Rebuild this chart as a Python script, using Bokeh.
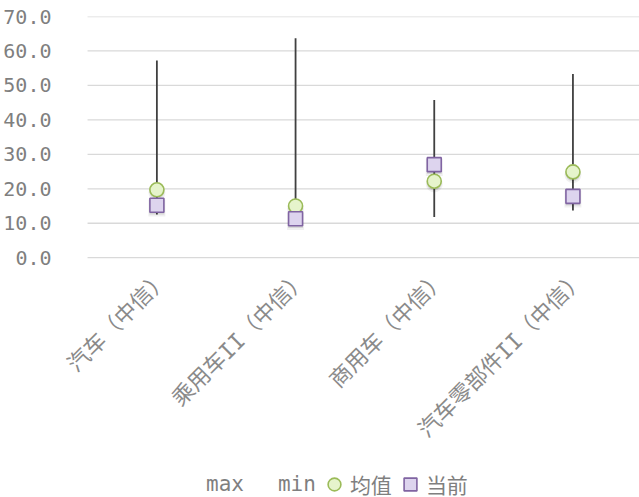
import math

from bokeh.core.properties import value
from bokeh.embed import file_html
from bokeh.models import (FixedTicker, Legend, LegendItem,
                          PrintfTickFormatter, Range1d)
from bokeh.plotting import figure
from bokeh.resources import INLINE
from bokeh.transform import dodge

# Valuation band per industry: historical max / min, mean and current level
categories = ["汽车（中信）", "乘用车II（中信）", "商用车（中信）", "汽车零部件II（中信）"]
max_values = [57.2, 63.7, 45.8, 53.3]
min_values = [12.5, 9.3, 11.8, 13.7]
mean_values = [19.7, 15.0, 22.2, 24.9]
current_values = [15.2, 11.3, 27.0, 17.8]
y_ticks = [0, 10, 20, 30, 40, 50, 60, 70]

MONO_CJK = "'DejaVu Sans Mono', 'Noto Sans CJK SC'"
TEXT_GREY = "#7f7f7f"

# one slot per category, each slot one unit wide with its centre at i + 0.5
n_cat = len(categories)
slot_centres = [i + 0.5 for i in range(n_cat)]

source = dict(x=slot_centres, cat=categories, hi=max_values, lo=min_values,
              mean=mean_values, cur=current_values)
grid_source = dict(y=y_ticks, x0=[0] * len(y_ticks), x1=[n_cat] * len(y_ticks))

# the frame reaches down to the page bottom and a little left of the first
# slot, so the slanted category labels and the legend are not clipped
p = figure(width=639, height=497, x_range=Range1d(-0.195, 3.98),
           y_range=Range1d(-69.6, 70), output_backend="svg",
           toolbar_location=None, x_axis_location=None,
           min_border_left=60, min_border_right=0, min_border_top=16,
           min_border_bottom=0)
p.outline_line_color = None
p.background_fill_color = "white"
p.border_fill_color = "white"

p.yaxis.ticker = FixedTicker(ticks=y_ticks)
p.yaxis.formatter = PrintfTickFormatter(format="%.1f")
p.yaxis.axis_line_color = None
p.yaxis.major_tick_line_color = None
p.yaxis.minor_tick_line_color = None
p.yaxis.major_label_standoff = 3
p.yaxis.major_label_text_font = "DejaVu Sans Mono"
p.yaxis.major_label_text_font_size = "20px"
p.yaxis.major_label_text_color = TEXT_GREY

p.xgrid.grid_line_color = None
p.ygrid.grid_line_color = None

# horizontal gridlines over the category slots only
p.segment(x0="x0", y0="y", x1="x1", y1="y", source=grid_source,
          line_color="#d9d9d9", line_width=1.3)

# category labels, slanted 45 degrees and ending under each category
p.text(x="x", y=0, text="cat", source=source, angle=math.pi / 4,
       text_align="right", text_baseline="middle", x_offset=8, y_offset=17,
       text_font=value(MONO_CJK), text_font_size="22px",
       text_color="#8a8a8a")

# high-low lines
p.segment(x0="x", y0="lo", x1="x", y1="hi", source=source,
          line_color="#404040", line_width=1.8)

# max / min markers carry no visible symbol
r_max = p.scatter(x="x", y="hi", source=source, size=1, alpha=0)
r_min = p.scatter(x="x", y="lo", source=source, size=1, alpha=0)

# soft drop shadows under the markers
for col, marker in (("mean", "circle"), ("cur", "square")):
    p.scatter(x="x", y=dodge(col, -0.8, range=p.y_range), source=source,
              marker=marker, size=17, fill_color="#000000", fill_alpha=0.06,
              line_color=None)
    p.scatter(x="x", y=dodge(col, -0.5, range=p.y_range), source=source,
              marker=marker, size=15, fill_color="#000000", fill_alpha=0.10,
              line_color=None)

r_mean = p.scatter(x="x", y="mean", source=source, marker="circle", size=14,
                   fill_color="#e6f4cc", line_color="#9bbb59", line_width=1.6)
r_cur = p.scatter(x="x", y="cur", source=source, marker="square", size=14,
                  fill_color="#ddd4ee", line_color="#8064a2", line_width=1.6)

legend = Legend(items=[LegendItem(label="max", renderers=[r_max]),
                       LegendItem(label="min", renderers=[r_min]),
                       LegendItem(label="均值", renderers=[r_mean]),
                       LegendItem(label="当前", renderers=[r_cur])],
                orientation="horizontal", location=(114, -3),
                border_line_color=None, background_fill_alpha=0,
                label_text_font=MONO_CJK, label_text_font_size="21px",
                label_text_color=TEXT_GREY, label_height=20,
                glyph_width=32, glyph_height=32,
                label_standoff=0, spacing=2, padding=0, margin=0)
p.add_layout(legend, "center")

open("out.html", "w").write(file_html(p, INLINE))
